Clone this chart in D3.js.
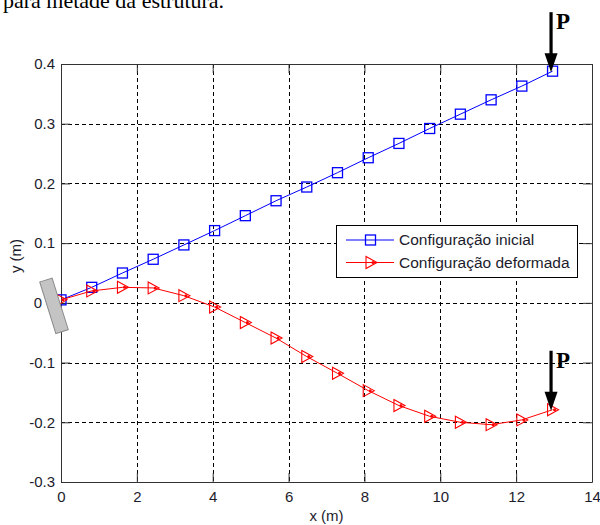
<!DOCTYPE html>
<html>
<head>
<meta charset="utf-8">
<script src="https://cdn.jsdelivr.net/npm/d3@7"></script>
<style>
  body { margin: 0; background: #fff; }
  svg { display: block; }
</style>
</head>
<body>
<div id="chart"></div>
<script>
const width = 600, height = 525;
const margins = { top: 64, right: 8, bottom: 43, left: 61 };

// data
const xPos = [0, 0.81, 1.62, 2.43, 3.24, 4.05, 4.86, 5.67, 6.48, 7.29, 8.1, 8.91, 9.72, 10.53, 11.34, 12.15, 12.96];
const yInicial = [0.005, 0.026, 0.050, 0.073, 0.097, 0.121, 0.146, 0.171, 0.194, 0.218, 0.243, 0.267, 0.292, 0.316, 0.340, 0.363, 0.388];
const yDeformada = [0.005, 0.020, 0.026, 0.025, 0.012, -0.007, -0.033, -0.059, -0.090, -0.118, -0.147, -0.172, -0.190, -0.200, -0.204, -0.196, -0.179];
const xTicks = [0, 2, 4, 6, 8, 10, 12, 14];
const yTicks = [-0.3, -0.2, -0.1, 0, 0.1, 0.2, 0.3, 0.4];
const seriesNames = ["Configuração inicial", "Configuração deformada"];

const svg = d3.select("#chart")
    .append("svg")
    .attr("width", width)
    .attr("height", height);

const x = d3.scaleLinear().domain([0, 14]).range([margins.left, width - margins.right]);
const y = d3.scaleLinear().domain([-0.3, 0.4]).range([height - margins.bottom, margins.top]);

const fmtY = d => d === 0 ? "0" : d.toFixed(1);
const fmtX = d => String(d);
const sans = "'Liberation Sans', Arial, sans-serif";
const serif = "'Liberation Serif', 'Times New Roman', serif";
const textColor = "#1c1c2c";

// caption text cut at the top of the page
svg.append("text")
    .attr("x", 3).attr("y", 8)
    .style("font-family", serif).style("font-size", "22px")
    .text("para metade da estrutura.");

// grid
const grid = svg.append("g").attr("stroke", "#000").attr("stroke-dasharray", "4,3").attr("stroke-width", 1);
grid.selectAll(".gx")
    .data(xTicks.slice(1, -1))
    .join("line")
    .attr("x1", d => Math.round(x(d)) + 0.5).attr("x2", d => Math.round(x(d)) + 0.5)
    .attr("y1", y(0.4)).attr("y2", y(-0.3));
grid.selectAll(".gy")
    .data(yTicks.slice(1, -1))
    .join("line")
    .attr("y1", d => Math.round(y(d)) + 0.5).attr("y2", d => Math.round(y(d)) + 0.5)
    .attr("x1", x(0)).attr("x2", x(14));

// axes with inward ticks
const styleAxis = g => {
    g.select(".domain").attr("stroke", "#333");
    g.selectAll(".tick line").attr("stroke", "#333");
    g.selectAll(".tick text").attr("fill", textColor).style("font-family", sans).style("font-size", "15px");
};
svg.append("g")
    .attr("transform", `translate(0,${y(-0.3)})`)
    .call(d3.axisBottom(x).tickValues(xTicks).tickFormat(fmtX).tickSizeInner(-9).tickSizeOuter(0).tickPadding(9))
    .call(styleAxis);
svg.append("g")
    .attr("transform", `translate(0,${y(0.4)})`)
    .call(d3.axisTop(x).tickValues(xTicks).tickFormat("").tickSizeInner(-9).tickSizeOuter(0))
    .call(styleAxis);
const yAxis = svg.append("g")
    .attr("transform", `translate(${x(0)},0)`)
    .call(d3.axisLeft(y).tickValues(yTicks).tickFormat(fmtY).tickSizeInner(-9).tickSizeOuter(0).tickPadding(6))
    .call(styleAxis);
// the "0" label sits further left, clear of the support drawing
yAxis.selectAll(".tick text").filter(d => d === 0).attr("x", -19);
svg.append("g")
    .attr("transform", `translate(${x(14)},0)`)
    .call(d3.axisRight(y).tickValues(yTicks).tickFormat("").tickSizeInner(-9).tickSizeOuter(0))
    .call(styleAxis);

// axis labels
svg.append("text")
    .attr("x", (x(0) + x(14)) / 2).attr("y", 521)
    .attr("text-anchor", "middle")
    .attr("fill", textColor)
    .style("font-family", sans).style("font-size", "15px")
    .text("x (m)");
svg.append("text")
    .attr("transform", "translate(21,256) rotate(-90)")
    .attr("text-anchor", "middle")
    .attr("fill", textColor)
    .style("font-family", sans).style("font-size", "15px")
    .text("y (m)");

// series
const line = d3.line().x(d => x(d[0])).y(d => y(d[1]));
const ptsIni = xPos.map((v, i) => [v, yInicial[i]]);
const ptsDef = xPos.map((v, i) => [v, yDeformada[i]]);

const triPath = "M-5,-6L6,0L-5,6Z";

svg.append("path").datum(ptsIni)
    .attr("d", line).attr("fill", "none").attr("stroke", "#0000ff").attr("stroke-width", 1);
svg.selectAll(".sq")
    .data(ptsIni)
    .join("rect")
    .attr("x", d => x(d[0]) - 5).attr("y", d => y(d[1]) - 5)
    .attr("width", 10).attr("height", 10)
    .attr("fill", "none").attr("stroke", "#0000ff").attr("stroke-width", 1.3);

svg.append("path").datum(ptsDef)
    .attr("d", line).attr("fill", "none").attr("stroke", "#ff0000").attr("stroke-width", 1);
svg.selectAll(".tri")
    .data(ptsDef)
    .join("path")
    .attr("transform", d => `translate(${x(d[0])},${y(d[1])})`)
    .attr("d", triPath)
    .attr("fill", "none").attr("stroke", "#ff0000").attr("stroke-width", 1.1);
svg.selectAll(".dot")
    .data(ptsDef)
    .join("circle")
    .attr("cx", d => x(d[0]) + 2).attr("cy", d => y(d[1]))
    .attr("r", 1.5).attr("fill", "#ff0000");

// support at the origin
svg.append("rect")
    .attr("transform", `translate(${x(0) - 7},${y(0) + 3}) rotate(-17.4)`)
    .attr("x", -6.5).attr("y", -27).attr("width", 13).attr("height", 54)
    .attr("fill", "#c4c4c4").attr("stroke", "#8a8a8a").attr("stroke-width", 1);

// load arrows "P" at the free end
const last = xPos.length - 1;
const arrowTips = [[xPos[last], yInicial[last]], [xPos[last], yDeformada[last]]];
const arrows = svg.selectAll(".arrow")
    .data(arrowTips)
    .join("g")
    .attr("transform", d => `translate(${x(d[0]) - 1.5},${y(d[1]) + 1})`);
arrows.append("line")
    .attr("x1", 0).attr("x2", 0).attr("y1", -60).attr("y2", -16)
    .attr("stroke", "#000").attr("stroke-width", 3.2);
arrows.append("path")
    .attr("d", "M-6.5,-19L6.5,-19L0,0Z")
    .attr("fill", "#000");
arrows.append("text")
    .attr("x", 5).attr("y", -43)
    .style("font-family", serif).style("font-size", "23px").style("font-weight", "bold")
    .text("P");

// legend
const legend = svg.append("g").attr("transform", "translate(336,225)");
legend.append("rect")
    .attr("x", 0.5).attr("y", 0.5).attr("width", 241).attr("height", 52)
    .attr("fill", "#fff").attr("stroke", "#000").attr("stroke-width", 1);
const rows = legend.selectAll(".row")
    .data(seriesNames)
    .join("g")
    .attr("transform", (d, i) => `translate(0,${15 + i * 22.5})`);
rows.append("line")
    .attr("x1", 10).attr("x2", 58).attr("y1", 0).attr("y2", 0)
    .attr("stroke", (d, i) => i === 0 ? "#0000ff" : "#ff0000").attr("stroke-width", 1);
rows.filter((d, i) => i === 0).append("rect")
    .attr("x", 29.5).attr("y", -5).attr("width", 10).attr("height", 10)
    .attr("fill", "none").attr("stroke", "#0000ff").attr("stroke-width", 1.3);
rows.filter((d, i) => i === 1).append("path")
    .attr("transform", "translate(35,0)")
    .attr("d", triPath)
    .attr("fill", "none").attr("stroke", "#ff0000").attr("stroke-width", 1.1);
rows.filter((d, i) => i === 1).append("circle")
    .attr("cx", 37).attr("cy", 0).attr("r", 1.5).attr("fill", "#ff0000");
rows.append("text")
    .attr("x", 63).attr("y", 0).attr("dy", "0.35em")
    .attr("fill", textColor)
    .style("font-family", sans).style("font-size", "15.5px")
    .text(d => d);
</script>
</body>
</html>
